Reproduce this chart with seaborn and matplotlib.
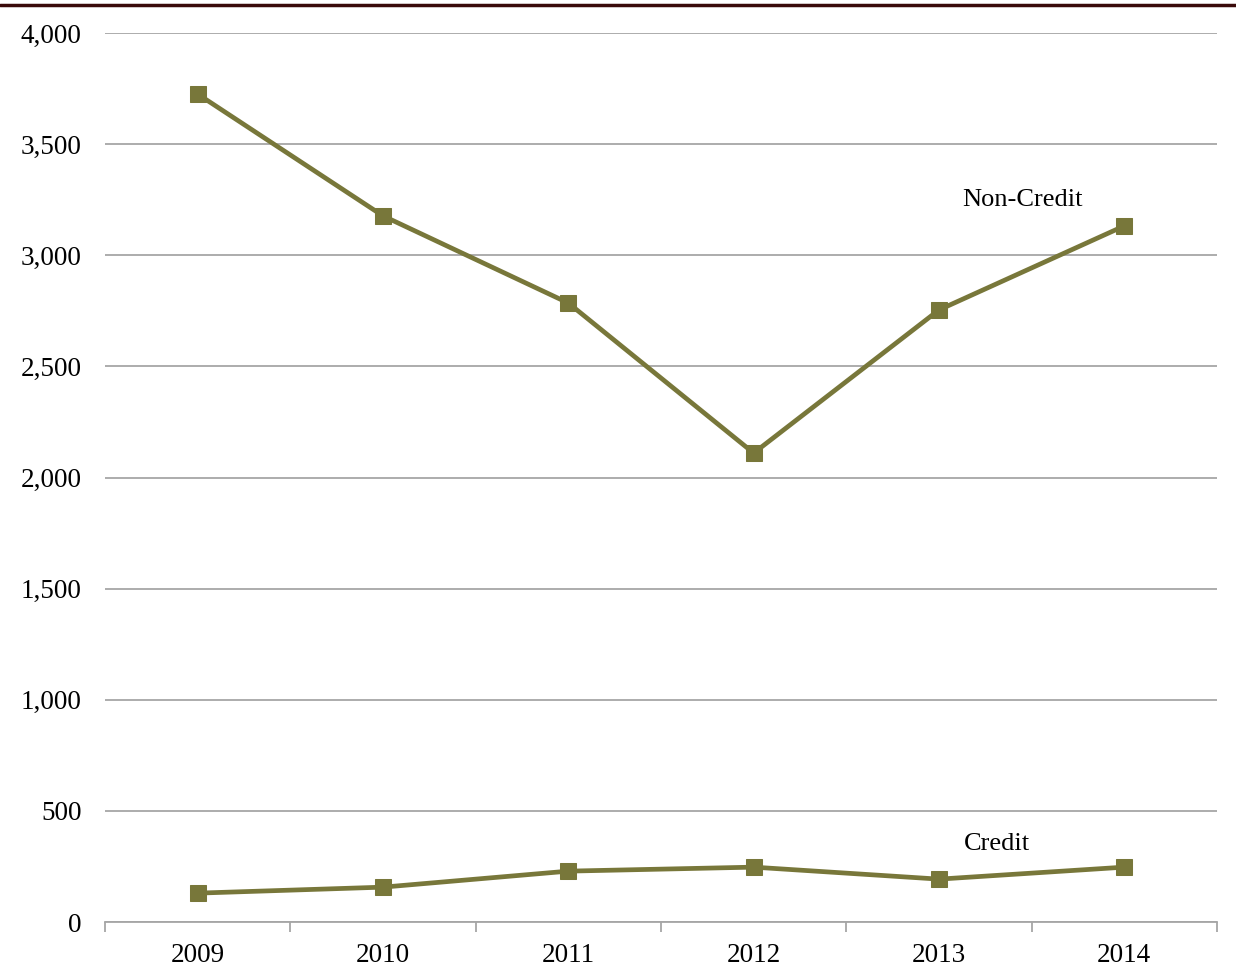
import matplotlib
matplotlib.use('Agg')
import matplotlib.pyplot as plt
import pandas as pd
import seaborn as sns

years = ['2009', '2010', '2011', '2012', '2013', '2014']
non_credit = [3725, 3177, 2785, 2110, 2754, 3132]
credit = [130, 157, 229, 247, 193, 247]

sns.set_style('white')
plt.rcParams['font.family'] = ['Liberation Serif', 'DejaVu Serif']
plt.rcParams['text.color'] = 'black'
plt.rcParams['xtick.color'] = 'black'
plt.rcParams['ytick.color'] = 'black'

olive = '#78773A'
grid_grey = '#A6A6A6'

df = pd.DataFrame({
    'year': years * 2,
    'value': non_credit + credit,
    'series': ['Non-Credit'] * len(years) + ['Credit'] * len(years),
})
df['pos'] = list(range(len(years))) * 2

fig = plt.figure(figsize=(12.36, 9.67), dpi=100)
ax = fig.add_axes([0.085, 0.0465, 0.8996, 0.9194])

sns.lineplot(data=df, x='pos', y='value', units='series', estimator=None,
             color=olive, linewidth=3.4, marker='s', markersize=11,
             markeredgecolor=olive, ax=ax)

ax.set_xlim(-0.5, len(years) - 0.5)
ax.set_ylim(0, 4000)
ax.set_yticks(range(0, 4001, 500))
ax.set_yticklabels([f'{v:,}' for v in range(0, 4001, 500)])
ax.yaxis.grid(True, color=grid_grey, linewidth=1.3)
ax.set_axisbelow(True)

# category ticks at boundaries, labels centered
ax.set_xticks([i - 0.5 for i in range(len(years) + 1)])
ax.set_xticklabels([])
ax.set_xticks(range(len(years)), minor=True)
ax.set_xticklabels(years, minor=True)
ax.tick_params(axis='x', which='major', direction='out', length=7, width=1.3,
               color=grid_grey, bottom=True)
ax.tick_params(axis='x', which='minor', length=0, pad=15, labelsize=19.5,
               labelcolor='black')
ax.tick_params(axis='y', length=0, pad=17, labelsize=19.5, labelcolor='black')

ax.set_xlabel('')
ax.set_ylabel('')
for s in ['top', 'right', 'left']:
    ax.spines[s].set_visible(False)
ax.spines['bottom'].set_color(grid_grey)
ax.spines['bottom'].set_linewidth(1.3)

ax.text(4.45, 3250, 'Non-Credit', ha='center', va='center', fontsize=19,
        color='black')
ax.text(4.31, 352, 'Credit', ha='center', va='center', fontsize=19,
        color='black')

# dark rule along the top
fig.add_artist(plt.Line2D([0, 1], [0.995, 0.995], color='#3A0A0A', linewidth=2.5,
                          transform=fig.transFigure))

fig.savefig('out.png', dpi=100)
